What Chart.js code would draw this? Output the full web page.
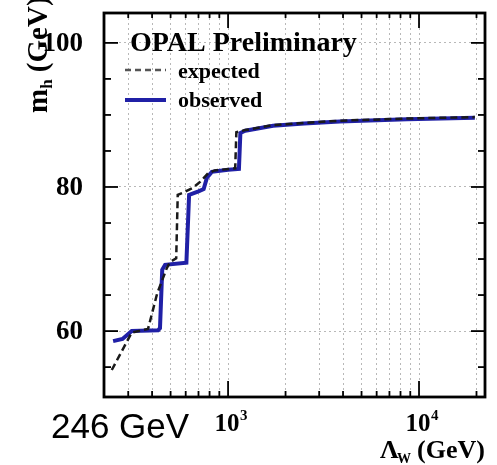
<!DOCTYPE html>
<html>
<head>
<meta charset="utf-8">
<script src="https://cdn.jsdelivr.net/npm/chart.js@4.4.0/dist/chart.umd.min.js"></script>
<style>
  html, body { margin: 0; padding: 0; background: #fff; }
  canvas { display: block; }
</style>
</head>
<body>
<canvas id="limitChart" width="497" height="465"></canvas>
<script>
// Lambda_W (GeV) and m_h (GeV)
const expectedLambda = [246, 313, 381, 425, 477, 497, 535, 545, 581, 656, 713, 786, 850, 1090, 1105, 1230, 1720, 2500, 3850, 8650, 19600];
const expectedMh     = [54.6, 59.8, 60.3, 65.2, 68.7, 69.6, 70.1, 78.9, 79.2, 79.9, 80.7, 81.9, 82.3, 82.6, 87.6, 87.9, 88.6, 88.9, 89.2, 89.5, 89.7];
const observedLambda = [250, 280, 313, 430, 440, 452, 468, 605, 625, 700, 745, 775, 822, 1000, 1140, 1160, 1230, 1720, 2500, 3850, 8650, 19600];
const observedMh     = [58.6, 58.9, 60.0, 60.1, 60.4, 68.5, 69.2, 69.5, 78.9, 79.4, 79.7, 81.3, 82.1, 82.4, 82.5, 87.5, 87.8, 88.5, 88.8, 89.1, 89.4, 89.6];

// axis ticks
const xTicks = [300, 400, 500, 600, 700, 800, 900, 1000, 2000, 3000, 4000, 5000, 6000, 7000, 8000, 9000, 10000, 20000];
const xMajor = [1000, 10000];
const xExponents = ["3", "4"];
const yTicks = [55, 60, 65, 70, 75, 80, 85, 90, 95, 100];
const yLabels = [60, 80, 100];

const serif = '"Liberation Serif", "Times New Roman", serif';
const blue = '#2020a6';

function toPoints(xs, ys) {
  return xs.map((x, i) => ({ x: x, y: ys[i] }));
}

function seg(ctx, x1, y1, x2, y2) {
  ctx.beginPath();
  ctx.moveTo(x1, y1);
  ctx.lineTo(x2, y2);
  ctx.stroke();
}

// frame, inward ticks, labels and the little legend
const decorations = {
  id: 'decorations',
  afterDraw(chart) {
    const ctx = chart.ctx;
    const a = chart.chartArea;
    const xs = chart.scales.x;
    const ys = chart.scales.y;
    ctx.save();
    ctx.strokeStyle = '#000';
    ctx.lineWidth = 2.8;
    ctx.strokeRect(a.left, a.top, a.right - a.left, a.bottom - a.top);

    ctx.lineWidth = 1.8;
    xTicks.forEach(v => {
      const px = xs.getPixelForValue(v);
      const big = xMajor.includes(v);
      seg(ctx, px, a.bottom, px, a.bottom - (big ? 16 : 6));
      seg(ctx, px, a.top, px, a.top + (big ? 15 : 5));
    });
    yTicks.forEach(v => {
      const py = ys.getPixelForValue(v);
      const big = yLabels.includes(v);
      seg(ctx, a.left, py, a.left + (big ? 14 : 7), py);
      seg(ctx, a.right, py, a.right - (big ? 14 : 7), py);
    });

    ctx.fillStyle = '#000';
    // y tick labels
    ctx.font = 'bold 27px ' + serif;
    ctx.textAlign = 'right';
    ctx.textBaseline = 'middle';
    yLabels.forEach(v => {
      ctx.fillText(String(v), 83, ys.getPixelForValue(v) + 1);
    });

    // x tick labels 10^3, 10^4
    ctx.textBaseline = 'alphabetic';
    xMajor.forEach((v, i) => {
      const px = xs.getPixelForValue(v);
      ctx.font = 'bold 25px ' + serif;
      ctx.textAlign = 'center';
      ctx.fillText('10', px - 1, 431);
      ctx.font = 'bold 15px ' + serif;
      ctx.textAlign = 'left';
      ctx.fillText(xExponents[i], px + 12, 420);
    });

    // x axis title
    ctx.textAlign = 'left';
    ctx.font = 'bold 26px ' + serif;
    ctx.fillText('\u039B', 380, 458);
    ctx.font = 'bold 14px ' + serif;
    ctx.fillText('W', 397, 463);
    ctx.font = 'bold 26px ' + serif;
    ctx.fillText('(GeV)', 417, 458);

    // y axis title, rotated
    ctx.save();
    ctx.translate(47, 113);
    ctx.rotate(-Math.PI / 2);
    ctx.font = 'bold 29px ' + serif;
    ctx.fillText('m', 0, 0);
    let w = ctx.measureText('m').width;
    ctx.font = 'bold 17px ' + serif;
    ctx.fillText('h', w, 5);
    w += ctx.measureText('h').width;
    ctx.font = 'bold 29px ' + serif;
    ctx.fillText(' (GeV)', w, 0);
    ctx.restore();

    // legend
    ctx.font = 'bold 28px ' + serif;
    ctx.fillText('OPAL Preliminary', 130, 51);
    ctx.font = 'bold 22px ' + serif;
    ctx.fillText('expected', 178, 78);
    ctx.fillText('observed', 178, 107);
    ctx.strokeStyle = '#555';
    ctx.lineWidth = 2.5;
    ctx.setLineDash([6, 4]);
    seg(ctx, 125, 70, 166, 70);
    ctx.setLineDash([]);
    ctx.strokeStyle = blue;
    ctx.lineWidth = 4;
    seg(ctx, 125, 100, 166, 100);

    // annotation under the axis
    ctx.fillStyle = '#000';
    ctx.font = '35px "Liberation Sans", Arial, sans-serif';
    ctx.fillText('246 GeV', 51, 438);
    ctx.restore();
  }
};

const ctx = document.getElementById('limitChart').getContext('2d');
new Chart(ctx, {
  type: 'line',
  data: {
    datasets: [{
      label: 'expected',
      data: toPoints(expectedLambda, expectedMh),
      borderColor: '#1a1a1a',
      borderWidth: 2.5,
      borderDash: [7, 4],
      pointRadius: 0,
      tension: 0,
      fill: false
    }, {
      label: 'observed',
      data: toPoints(observedLambda, observedMh),
      borderColor: blue,
      borderWidth: 4,
      pointRadius: 0,
      tension: 0,
      fill: false
    }]
  },
  options: {
    responsive: false,
    animation: false,
    layout: { padding: { left: 104, top: 13, right: 12, bottom: 68 } },
    plugins: {
      legend: { display: false },
      tooltip: { enabled: false }
    },
    scales: {
      x: {
        type: 'logarithmic',
        min: 224,
        max: 22160,
        afterBuildTicks: axis => { axis.ticks = xTicks.map(v => ({ value: v })); },
        ticks: { display: false },
        grid: { drawTicks: false, color: '#b8b8b8', lineWidth: 1 },
        border: { display: false, dash: [2, 3] }
      },
      y: {
        type: 'linear',
        min: 50.85,
        max: 104.15,
        afterBuildTicks: axis => { axis.ticks = yLabels.map(v => ({ value: v })); },
        ticks: { display: false },
        grid: { drawTicks: false, color: '#b8b8b8', lineWidth: 1 },
        border: { display: false, dash: [2, 3] }
      }
    }
  },
  plugins: [decorations]
});
</script>
</body>
</html>
